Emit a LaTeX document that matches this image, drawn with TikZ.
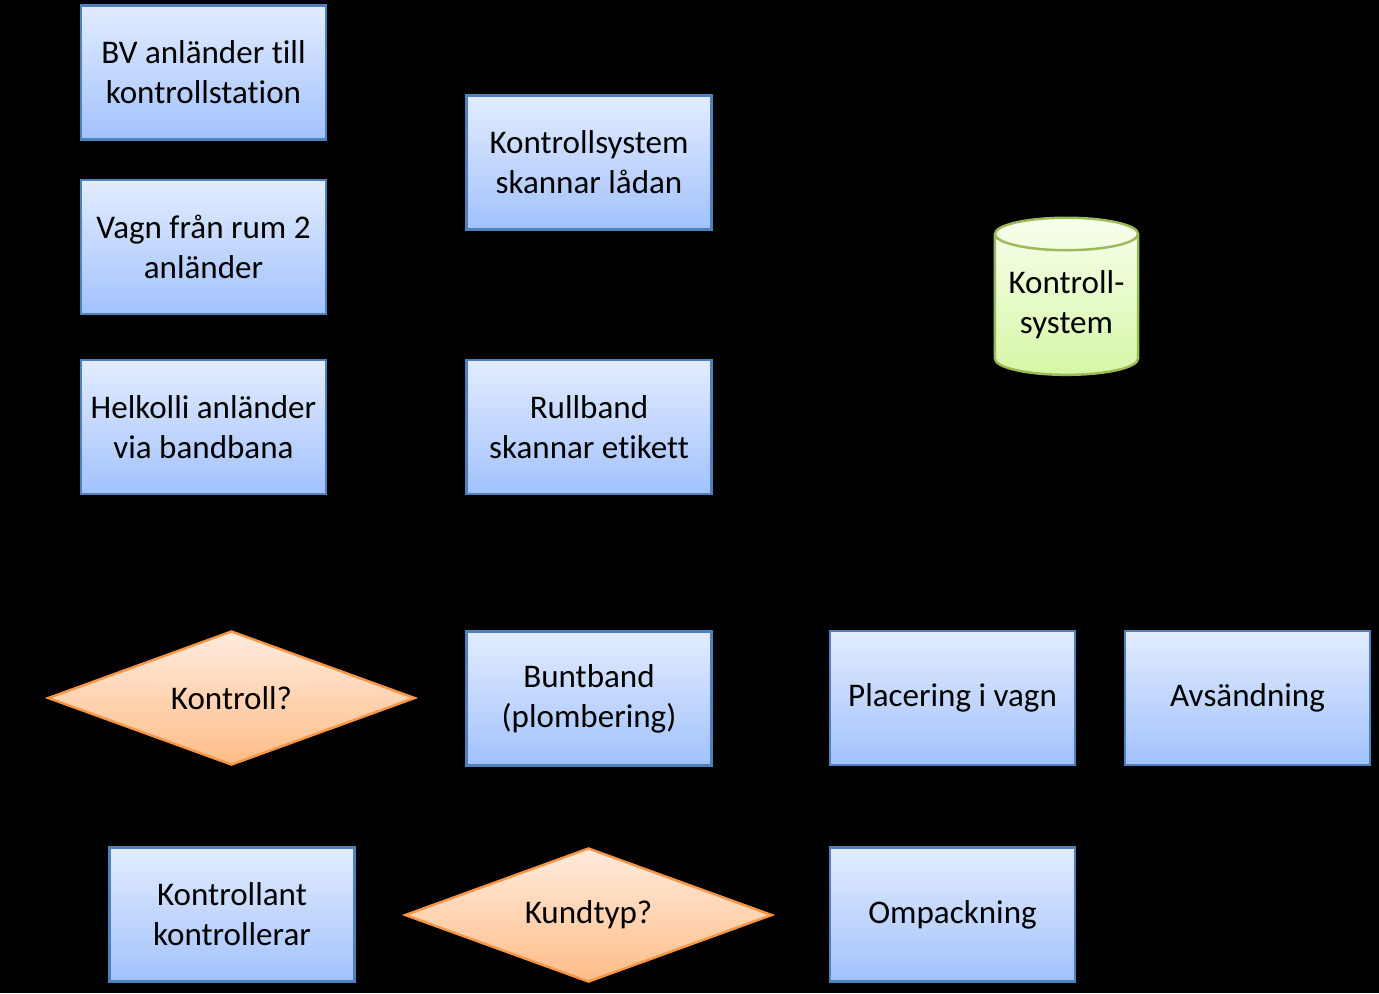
\documentclass[tikz,border=0pt]{standalone}
\usepackage{fontspec}
\setmainfont{Carlito}[Ligatures=NoCommon]
\usepackage{tikz}
\usetikzlibrary{shapes.geometric}
\definecolor{boxtop}{HTML}{E2ECFF}
\definecolor{boxbot}{HTML}{A2C2FC}
\definecolor{boxline}{HTML}{4F81BD}
\definecolor{dectop}{HTML}{FFEBDD}
\definecolor{decbot}{HTML}{FFBD88}
\definecolor{decline}{HTML}{F79646}
\definecolor{dbtop}{HTML}{F8FFEE}
\definecolor{dbbot}{HTML}{D6F7A6}
\definecolor{dbline}{HTML}{9BBB59}
\tikzset{
  every node/.style={font=\fontsize{9.4}{11.4}\selectfont,align=center},
  process/.style={rectangle,draw=boxline,line width=0.7pt,top color=boxtop,bottom color=boxbot,
    minimum width=2.45cm,minimum height=1.34cm,inner sep=0pt},
  decision/.style={diamond,draw=decline,line width=0.7pt,top color=dectop,bottom color=decbot,
    minimum width=3.67cm,minimum height=1.34cm,aspect=2.7,inner sep=0pt},
  database/.style={cylinder,shape border rotate=90,aspect=0.28,draw=dbline,line width=0.7pt,
    top color=dbtop,bottom color=dbbot,minimum width=1.43cm,minimum height=1.57cm,inner sep=0pt}
}
\begin{document}
\begin{tikzpicture}[x=0.01cm,y=-0.01cm]
      \fill[black] (0,0) rectangle (1379,993);
      \node[process] (bv) at (203.5,72.5) {BV anländer till\\kontrollstation};
      \node[process] (vagn) at (203.5,247) {Vagn från rum 2\\anländer};
      \node[process] (helkolli) at (203.5,427) {Helkolli anländer\\via bandbana};
      \node[process] (skanna) at (589,162.5) {Kontrollsystem\\skannar lådan};
      \node[process] (rullband) at (589,427) {Rullband\\skannar etikett};
      \node[database] (ksys) at (1066.5,305) {Kontroll-\\system};
      \node[decision] (kontroll) at (231.5,698) {Kontroll?};
      \node[process] (buntband) at (589,698.5) {Buntband\\(plombering)};
      \node[process] (placering) at (952.5,698) {Placering i vagn};
      \node[process] (avsand) at (1247.5,698) {Avsändning};
      \node[process] (kontrollant) at (232,914.5) {Kontrollant\\kontrollerar};
      \node[decision] (kundtyp) at (588.5,915) {Kundtyp?};
      \node[process] (ompack) at (952.5,914.5) {Ompackning};
    \end{tikzpicture}
\end{document}
